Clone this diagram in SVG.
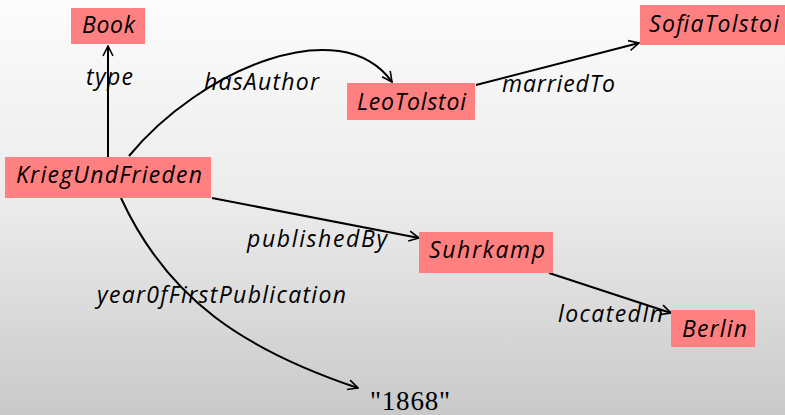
<svg xmlns="http://www.w3.org/2000/svg" width="785" height="415" viewBox="0 0 785 415">
<defs>
<linearGradient id="bg" x1="0" y1="0" x2="0" y2="1">
<stop offset="0" stop-color="#fcfcfc"/>
<stop offset="0.5" stop-color="#ebebeb"/>
<stop offset="1" stop-color="#c9c9c9"/>
</linearGradient>
<marker id="arr" viewBox="0 0 12 12" refX="11" refY="6" markerWidth="12" markerHeight="12" markerUnits="userSpaceOnUse" orient="auto">
<path d="M1,1 L11,6 L1,11" fill="none" stroke="#000" stroke-width="1.6"/>
</marker>
<style>
.node rect { fill: #ff8080; }
.node text, .lbl { font-family: "Open Sans", "DejaVu Sans", sans-serif; font-style: italic; font-size: 23px; fill: #000; }
.edge { fill: none; stroke: #000; stroke-width: 2; marker-end: url(#arr); }
.lit { font-family: "Liberation Serif", serif; font-size: 27px; fill: #000; }
</style>
</defs>
<rect x="0" y="0" width="785" height="415" fill="url(#bg)"/>
<g id="connectors">
<path class="edge" d="M108,157 L108,46"/>
<path class="edge" d="M129,156 C200,70 340,10 392,82"/>
<path class="edge" d="M476,85 L639,43"/>
<path class="edge" d="M212,198 L419,238"/>
<path class="edge" d="M549,273 L671,313"/>
<path class="edge" d="M121,198 C168,300 245,350 358,388"/>
<text class="lbl" x="86" y="85" textLength="47" lengthAdjust="spacing">type</text>
<text class="lbl" x="204" y="90" textLength="115" lengthAdjust="spacing">hasAuthor</text>
<text class="lbl" x="502" y="92" textLength="113" lengthAdjust="spacing">marriedTo</text>
<text class="lbl" x="247" y="247" textLength="140" lengthAdjust="spacing">publishedBy</text>
<text class="lbl" x="97" y="303" textLength="249" lengthAdjust="spacing">year0fFirstPublication</text>
<text class="lbl" x="558" y="322" textLength="105" lengthAdjust="spacing">locatedIn</text>
</g>
<g id="n-book" class="node"><rect x="71" y="8" width="74" height="36"/><text x="82" y="33" textLength="53" lengthAdjust="spacing">Book</text></g>
<g id="n-krieg" class="node"><rect x="5" y="157" width="206" height="41"/><text x="16" y="183" textLength="186" lengthAdjust="spacing">KriegUndFrieden</text></g>
<g id="n-leo" class="node"><rect x="347" y="83" width="128" height="37"/><text x="357" y="110" textLength="109" lengthAdjust="spacing">LeoTolstoi</text></g>
<g id="n-sofia" class="node"><rect x="640" y="5" width="145" height="40"/><text x="649" y="32" textLength="130" lengthAdjust="spacing">SofiaTolstoi</text></g>
<g id="n-suhrkamp" class="node"><rect x="419" y="232" width="134" height="41"/><text x="429" y="258" textLength="116" lengthAdjust="spacing">Suhrkamp</text></g>
<g id="n-berlin" class="node"><rect x="671" y="310" width="84" height="37"/><text x="682" y="337" textLength="65" lengthAdjust="spacing">Berlin</text></g>
<g id="n-1868"><text class="lit" x="370" y="410" textLength="80" lengthAdjust="spacing">"1868"</text></g>
</svg>
